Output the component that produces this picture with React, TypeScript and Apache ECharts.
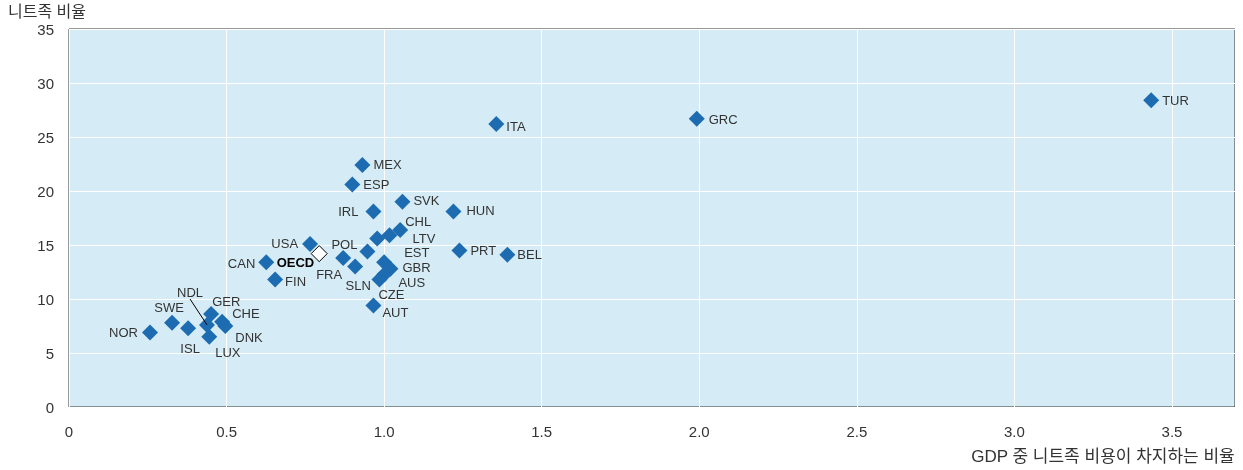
import React, { useEffect, useRef } from "react";
import * as echarts from "echarts";

// Data
const countries = [
  "TUR", "GRC", "ITA", "MEX", "ESP", "SVK", "HUN", "IRL", "CHL", "LTV", "",
  "POL", "EST", "GBR", "AUS", "CZE", "AUT", "PRT", "BEL", "FRA", "SLN",
  "USA", "OECD", "CAN", "FIN", "NOR", "SWE", "ISL", "NDL", "GER", "CHE", "DNK", "LUX",
];
const costShareGDP = [
  3.434, 1.992, 1.356, 0.931, 0.899, 1.058, 1.22, 0.966, 1.051, 1.017, 0.978,
  0.947, 1.0, 1.02, 1.001, 0.985, 0.966, 1.239, 1.391, 0.87, 0.908,
  0.765, 0.794, 0.626, 0.654, 0.257, 0.327, 0.378, 0.438, 0.451, 0.486, 0.496, 0.445,
];
const neetRate = [
  28.4, 26.7, 26.2, 22.4, 20.6, 19.0, 18.1, 18.1, 16.4, 15.9, 15.6,
  14.4, 13.4, 12.8, 12.3, 11.8, 9.4, 14.5, 14.1, 13.8, 13.0,
  15.1, 14.2, 13.4, 11.8, 6.9, 7.8, 7.3, 7.6, 8.6, 7.9, 7.5, 6.5,
];
const xTicks = [0, 0.5, 1.0, 1.5, 2.0, 2.5, 3.0, 3.5];
const yTicks = [0, 5, 10, 15, 20, 25, 30, 35];
const yAxisTitle = "니트족 비율";
const xAxisTitle = "GDP 중 니트족 비용이 차지하는 비율";
const highlight = "OECD";
const leaderLabelAnchor = [0.384, 10.0];

// Label placement (style): [align, dx, dy]
const labelPlacement: Record<string, [string, number, number]> = {
  TUR: ["left", 11, 0],
  GRC: ["left", 12, 1],
  ITA: ["left", 10, 2],
  MEX: ["left", 11, -1],
  ESP: ["left", 11, 0],
  SVK: ["left", 11, -1],
  HUN: ["left", 13, -1],
  IRL: ["right", -15, 0],
  CHL: ["left", 5, -8],
  LTV: ["left", 23, 3],
  POL: ["right", -10, -7],
  EST: ["left", 20, -10],
  GBR: ["left", 12, -1],
  AUS: ["left", 14, 8],
  CZE: ["center", 12, 15],
  AUT: ["left", 9, 7],
  PRT: ["left", 11, 0],
  BEL: ["left", 10, 0],
  FRA: ["right", -1, 17],
  SLN: ["center", 3, 19],
  USA: ["right", -12, 0],
  OECD: ["right", -5, 9],
  CAN: ["right", -11, 1],
  FIN: ["left", 10, 2],
  NOR: ["right", -12, 0],
  SWE: ["center", -3, -15],
  ISL: ["center", 2, 20],
  NDL: ["center", -17, -32],
  GER: ["left", 1, -13],
  CHE: ["left", 10, -8],
  DNK: ["left", 10, 11],
  LUX: ["left", 6, 16],
};

const FONT = "'Liberation Sans', Arial, 'Noto Sans CJK KR', sans-serif";
const BLUE = "#1d6cb1";

export default function App() {
  const ref = useRef<HTMLDivElement>(null);
  useEffect(() => {
    if (!ref.current) return;
    const chart = echarts.init(ref.current, undefined, { renderer: "svg" });
    const data = countries.map((name, i) => {
      const isHi = name === highlight;
      const p = labelPlacement[name];
      return {
        name,
        value: [costShareGDP[i], neetRate[i]],
        itemStyle: isHi
          ? { color: "#ffffff", borderColor: "#000000", borderWidth: 1, opacity: 1 }
          : { color: BLUE, opacity: 1 },
        label: p
          ? {
              show: true,
              formatter: "{b}",
              position: "inside",
              align: p[0],
              verticalAlign: "middle",
              offset: [p[1], p[2]],
              fontWeight: isHi ? "bold" : "normal",
              color: isHi ? "#000000" : "#333333",
            }
          : { show: false },
      };
    });
    const ndlIdx = countries.indexOf("NDL");
    chart.setOption({
      animation: false,
      textStyle: { fontFamily: FONT },
      grid: {
        left: 69,
        top: 29,
        right: 8,
        bottom: 63,
        show: true,
        backgroundColor: "#d5ecf6",
        borderColor: "#333333",
        borderWidth: 1,
      },
      xAxis: {
        type: "value",
        min: xTicks[0],
        max: 3.7,
        interval: 0.5,
        axisLine: { show: false },
        axisTick: { show: false },
        splitLine: { show: true, lineStyle: { color: "#ffffff", width: 1 } },
        axisLabel: {
          showMaxLabel: false,
          margin: 17,
          fontSize: 15,
          color: "#333333",
          fontFamily: FONT,
          formatter: (v: number) => (v === 0 ? "0" : v.toFixed(1)),
        },
      },
      yAxis: {
        type: "value",
        min: yTicks[0],
        max: yTicks[yTicks.length - 1],
        interval: 5,
        axisLine: { show: false },
        axisTick: { show: false },
        splitLine: { show: true, lineStyle: { color: "#ffffff", width: 1 } },
        axisLabel: {
          margin: 15,
          fontSize: 15,
          color: "#333333",
          fontFamily: FONT,
        },
      },
      graphic: [
        {
          type: "text",
          left: 8,
          top: 3,
          style: { text: yAxisTitle, fontSize: 16, fill: "#333333", fontFamily: FONT },
        },
        {
          type: "text",
          right: 8,
          top: 448,
          style: { text: xAxisTitle, fontSize: 17, fill: "#333333", fontFamily: FONT },
        },
      ],
      series: [
        {
          type: "scatter",
          symbol: "diamond",
          symbolSize: 16,
          data,
          label: { fontSize: 13, fontFamily: FONT },
          emphasis: { disabled: true },
          markLine: {
            silent: true,
            symbol: "none",
            label: { show: false },
            lineStyle: { color: "#000000", width: 1, type: "solid" },
            data: [
              [
                { coord: leaderLabelAnchor },
                { coord: [costShareGDP[ndlIdx], neetRate[ndlIdx]] },
              ],
            ],
          },
        },
      ],
    });
    return () => chart.dispose();
  }, []);
  return (
    <div
      ref={ref}
      style={{ position: "fixed", left: 0, top: 0, width: 1243, height: 470 }}
    />
  );
}
